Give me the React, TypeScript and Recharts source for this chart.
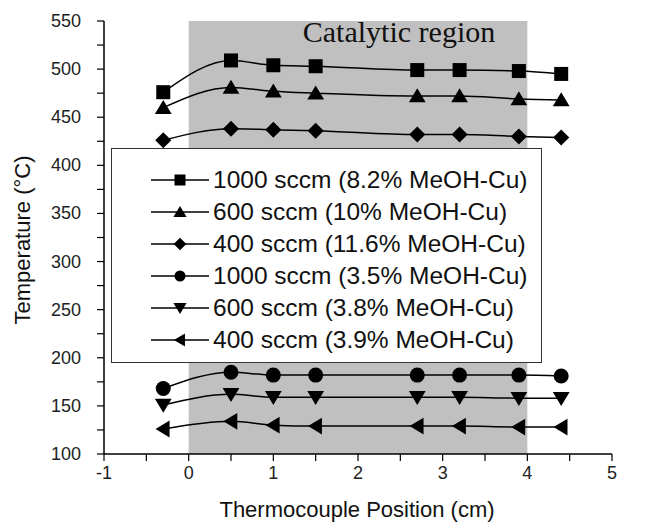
import React from "react";
import {
  LineChart,
  Line,
  XAxis,
  YAxis,
  ReferenceArea,
  Legend,
  Label,
} from "recharts";

if (typeof document !== "undefined") document.body.style.margin = "0";

// thermocouple positions (cm)
const positions = [-0.3, 0.5, 1, 1.5, 2.7, 3.2, 3.9, 4.4];

// temperatures (°C)
const s1000_82 = [476, 509, 504, 503, 499, 499, 498, 495];
const s600_10 = [460, 481, 477, 475, 472, 472, 469, 468];
const s400_116 = [426, 438, 437, 436, 432, 432, 430, 429];
const s1000_35 = [168, 185, 182, 182, 182, 182, 182, 181];
const s600_38 = [151, 162, 159, 159, 159, 159, 158, 158];
const s400_39 = [126, 134, 130, 129, 129, 129, 128, 128];

const seriesNames = [
  "1000 sccm (8.2% MeOH-Cu)",
  "600 sccm (10% MeOH-Cu)",
  "400 sccm (11.6% MeOH-Cu)",
  "1000 sccm (3.5% MeOH-Cu)",
  "600 sccm (3.8% MeOH-Cu)",
  "400 sccm (3.9% MeOH-Cu)",
];
const seriesValues = [s1000_82, s600_10, s400_116, s1000_35, s600_38, s400_39];
const shapes = ["square", "triangle", "diamond", "circle", "triangleDown", "triangleLeft"];

const xTicks = [-1, -0.5, 0, 0.5, 1, 1.5, 2, 2.5, 3, 3.5, 4, 4.5, 5];
const yTicks = [100, 125, 150, 175, 200, 225, 250, 275, 300, 325, 350, 375, 400, 425, 450, 475, 500, 525, 550];

const data = positions.map((x, i) => {
  const row: Record<string, number> = { x };
  seriesValues.forEach((vals, k) => {
    row["s" + k] = vals[i];
  });
  return row;
});

const FONT = "'Liberation Sans', Arial, sans-serif";

function Marker({ cx, cy, shape, s }: { cx: number; cy: number; shape: string; s: number }) {
  if (cx == null || cy == null) return null;
  const h = s / 2;
  switch (shape) {
    case "square":
      return <rect x={cx - h} y={cy - h} width={s} height={s} fill="#000" />;
    case "circle":
      return <circle cx={cx} cy={cy} r={h} fill="#000" />;
    case "diamond":
      return <polygon points={`${cx},${cy - h * 1.15} ${cx + h * 1.15},${cy} ${cx},${cy + h * 1.15} ${cx - h * 1.15},${cy}`} fill="#000" />;
    case "triangle":
      return <polygon points={`${cx},${cy - h * 1.1} ${cx + h * 1.2},${cy + h * 0.9} ${cx - h * 1.2},${cy + h * 0.9}`} fill="#000" />;
    case "triangleDown":
      return <polygon points={`${cx},${cy + h * 1.1} ${cx + h * 1.2},${cy - h * 0.9} ${cx - h * 1.2},${cy - h * 0.9}`} fill="#000" />;
    default:
      return <polygon points={`${cx - h * 1.1},${cy} ${cx + h * 0.9},${cy - h * 1.2} ${cx + h * 0.9},${cy + h * 1.2}`} fill="#000" />;
  }
}

function YTick(props: any) {
  const { x, y, payload } = props;
  if (payload.value % 50 !== 0) return null;
  return (
    <text x={x} y={y} dy={6} textAnchor="end" fontFamily={FONT} fontSize={18} fill="#222">
      {payload.value}
    </text>
  );
}

function XTick(props: any) {
  const { x, y, payload } = props;
  if (!Number.isInteger(payload.value)) return null;
  return (
    <text x={x} y={y} dy={16} textAnchor="middle" fontFamily={FONT} fontSize={18} fill="#222">
      {payload.value}
    </text>
  );
}

function LegendBox() {
  return (
    <div
      style={{
        width: 431,
        height: 215,
        background: "#fff",
        border: "1.5px solid #333",
        boxSizing: "border-box",
        paddingTop: 15,
        fontFamily: FONT,
      }}
    >
      {seriesNames.map((name, k) => (
        <div key={name} style={{ display: "flex", alignItems: "center", height: 32 }}>
          <svg width={60} height={20} style={{ marginLeft: 38 }}>
            <line x1={1} y1={10} x2={59} y2={10} stroke="#000" strokeWidth={1.5} />
            <Marker cx={30} cy={10} shape={shapes[k]} s={11} />
          </svg>
          <span style={{ fontSize: 24.5, color: "#111", marginLeft: 3, whiteSpace: "nowrap" }}>{name}</span>
        </div>
      ))}
    </div>
  );
}

export default function App() {
  return (
    <div style={{ width: 650, height: 523, background: "#fff" }}>
      <LineChart width={650} height={523} data={data} margin={{ top: 21, right: 38, left: 44, bottom: 39 }}>
        <ReferenceArea
          x1={0}
          x2={4}
          y1={100}
          y2={550}
          fill="#c0c0c0"
          fillOpacity={1}
          stroke="none"
          ifOverflow="extendDomain"
        >
          <Label
            value="Catalytic region"
            position="insideTop"
            offset={0}
            dx={41}
            style={{ fontFamily: "'Liberation Serif', 'Times New Roman', serif", fontSize: 30, fill: "#111" }}
          />
        </ReferenceArea>
        <XAxis
          type="number"
          dataKey="x"
          domain={[-1, 5]}
          ticks={xTicks}
          tick={<XTick />}
          tickSize={7}
          axisLine={{ stroke: "#000", strokeWidth: 1.5 }}
          tickLine={{ stroke: "#000", strokeWidth: 1.2 }}
          height={30}
          interval={0}
        >
          <Label
            content={() => (
              <text x={357} y={517} textAnchor="middle" fontFamily={FONT} fontSize={22} fill="#111">
                Thermocouple Position (cm)
              </text>
            )}
          />
        </XAxis>
        <YAxis
          type="number"
          domain={[100, 550]}
          ticks={yTicks}
          tick={<YTick />}
          tickSize={7}
          tickMargin={16}
          axisLine={{ stroke: "#000", strokeWidth: 1.5 }}
          tickLine={{ stroke: "#000", strokeWidth: 1.2 }}
          width={60}
          interval={0}
        >
          <Label
            content={() => (
              <text
                x={30}
                y={240}
                textAnchor="middle"
                transform="rotate(-90 30 240)"
                fontFamily={FONT}
                fontSize={22}
                fill="#111"
              >
                Temperature (°C)
              </text>
            )}
          />
        </YAxis>
        {seriesNames.map((name, k) => (
          <Line
            key={name}
            name={name}
            type="monotone"
            dataKey={"s" + k}
            stroke="#000"
            strokeWidth={1.5}
            isAnimationActive={false}
            dot={(p: any) => <Marker key={p.index} cx={p.cx} cy={p.cy} shape={shapes[k]} s={shapes[k] === "circle" ? 15 : 14} />}
          />
        ))}
        <Legend
          layout="vertical"
          align="center"
          verticalAlign="middle"
          content={() => <LegendBox />}
          wrapperStyle={{ position: "absolute", left: 111, top: 148, width: 431, height: 215 }}
        />
      </LineChart>
    </div>
  );
}
